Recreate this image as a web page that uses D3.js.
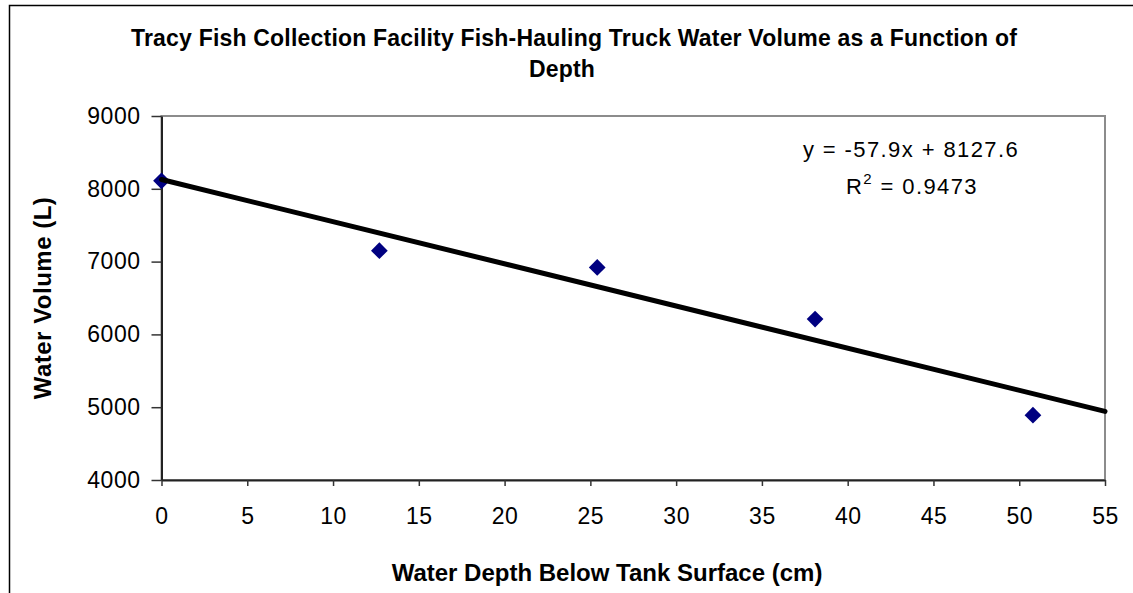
<!DOCTYPE html>
<html>
<head>
<meta charset="utf-8">
<title>Tracy Fish Collection Facility Truck Water Volume</title>
<script src="https://cdn.jsdelivr.net/npm/d3@7"></script>
<style>
  html, body { margin: 0; padding: 0; background: #fff; }
  svg { display: block; font-family: "Liberation Sans", Arial, sans-serif; }
</style>
</head>
<body>
<div id="chart"></div>
<script>
// data
const depths = [0, 12.7, 25.4, 38.1, 50.8];
const volumes = [8110, 7150, 6920, 6210, 4890];
const xTicks = [0, 5, 10, 15, 20, 25, 30, 35, 40, 45, 50, 55];
const yTicks = [4000, 5000, 6000, 7000, 8000, 9000];
const trendSlope = -57.9;
const trendIntercept = 8127.6;
const trendRange = [0, 55];

const W = 1133, H = 593;
const plot = {left: 161.5, right: 1105, top: 116, bottom: 480};

const svg = d3.select("#chart").append("svg")
  .attr("width", W)
  .attr("height", H);

// outer chart frame (cropped at right/bottom like the source)
svg.append("rect")
  .attr("x", 9.5).attr("y", 5.5)
  .attr("width", 1200).attr("height", 700)
  .attr("fill", "#fff")
  .attr("stroke", "#000")
  .attr("stroke-width", 1.5);

const x = d3.scaleLinear().domain([0, 55]).range([plot.left, plot.right]);
const y = d3.scaleLinear().domain([4000, 9000]).range([plot.bottom, plot.top]);

// plot area border
svg.append("rect")
  .attr("x", plot.left).attr("y", plot.top)
  .attr("width", plot.right - plot.left)
  .attr("height", plot.bottom - plot.top)
  .attr("fill", "#fff")
  .attr("stroke", "#8c8c8c")
  .attr("stroke-width", 2);

// axes
const xAxis = svg.append("g")
  .attr("transform", `translate(0,${plot.bottom})`)
  .call(d3.axisBottom(x).tickValues(xTicks).tickFormat(d3.format("d"))
    .tickSize(6).tickPadding(22).tickSizeOuter(0));
const yAxis = svg.append("g")
  .attr("transform", `translate(${plot.left},0)`)
  .call(d3.axisLeft(y).tickValues(yTicks).tickFormat(d3.format("d"))
    .tickSize(10).tickPadding(11).tickSizeOuter(0));

[xAxis, yAxis].forEach(g => {
  g.select(".domain").attr("stroke", "#222").attr("stroke-width", 2);
  g.selectAll(".tick line").attr("stroke", "#333").attr("stroke-width", 1.5);
  g.selectAll(".tick text")
    .attr("fill", "#000")
    .attr("font-size", "23px")
    .attr("letter-spacing", "0.5px")
    .attr("font-family", "Liberation Sans, Arial, sans-serif");
});
xAxis.selectAll(".tick text").attr("dy", "0.71em");

// markers
const diamond = d3.symbol().type(d3.symbolSquare).size(140);
svg.append("g").selectAll("path")
  .data(depths.map((d, i) => ({x: d, y: volumes[i]})))
  .join("path")
  .attr("d", diamond)
  .attr("transform", d => `translate(${x(d.x)},${y(d.y)}) rotate(45)`)
  .attr("fill", "#000080");

// linear trendline
const line = d3.line().x(d => x(d)).y(d => y(trendSlope * d + trendIntercept));
svg.append("path")
  .datum(trendRange)
  .attr("d", line)
  .attr("fill", "none")
  .attr("stroke", "#000")
  .attr("stroke-width", 5)
  .attr("stroke-linecap", "round");

// trendline equation
const eq = svg.append("g")
  .attr("font-size", "22px")
  .attr("letter-spacing", "1.4px")
  .attr("fill", "#000")
  .attr("text-anchor", "middle");
eq.append("text").attr("x", 911).attr("y", 157)
  .text(`y = ${trendSlope}x + ${trendIntercept}`);
const r2 = eq.append("text").attr("x", 912).attr("y", 194);
r2.append("tspan").text("R");
r2.append("tspan").attr("font-size", "15px").attr("dy", -10).text("2");
r2.append("tspan").attr("dy", 10).text(" = 0.9473");

// title
const title = svg.append("text")
  .attr("text-anchor", "middle")
  .attr("font-weight", "bold")
  .attr("font-size", "23px")
  .attr("letter-spacing", "0.2px")
  .attr("fill", "#000");
title.append("tspan").attr("x", 574).attr("y", 46)
  .text("Tracy Fish Collection Facility Fish-Hauling Truck Water Volume as a Function of");
title.append("tspan").attr("x", 562).attr("y", 77).text("Depth");

// axis titles
svg.append("text")
  .attr("x", 607).attr("y", 581)
  .attr("text-anchor", "middle")
  .attr("font-weight", "bold")
  .attr("font-size", "24px")
  .text("Water Depth Below Tank Surface (cm)");

svg.append("text")
  .attr("transform", `translate(51,${(plot.top + plot.bottom) / 2}) rotate(-90)`)
  .attr("text-anchor", "middle")
  .attr("font-weight", "bold")
  .attr("font-size", "24px")
  .attr("letter-spacing", "0.5px")
  .text("Water Volume (L)");
</script>
</body>
</html>
